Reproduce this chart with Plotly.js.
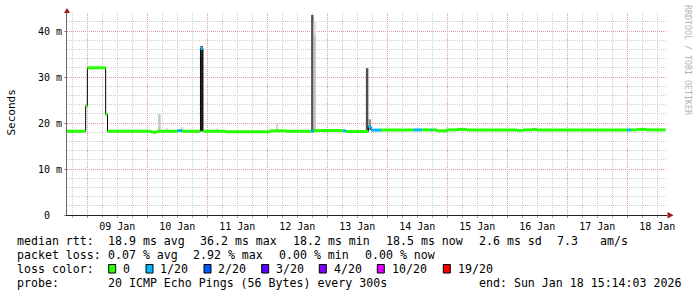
<!DOCTYPE html>
<html><head><meta charset="utf-8">
<script src="https://cdn.plot.ly/plotly-3.0.1.min.js"></script>
<style>html,body{margin:0;padding:0;background:#fff;} #chart{width:697px;height:297px;}</style>
</head><body><div id="chart"></div>
<script>
// ---------- DATA ----------
const xStart = "2026-01-08 15:52";
const xEnd = "2026-01-18 15:52";

// median rtt (ms), step breakpoints, with loss class index per step
const medianTime = [
  "2026-01-08 15:40","2026-01-08 23:20","2026-01-09 00:00","2026-01-09 07:20","2026-01-09 08:05",
  "2026-01-10 01:40","2026-01-10 03:50","2026-01-10 12:05","2026-01-10 13:45","2026-01-10 21:15",
  "2026-01-10 22:15","2026-01-11 07:30","2026-01-12 01:05","2026-01-12 07:30","2026-01-12 17:30",
  "2026-01-12 18:30","2026-01-13 06:25","2026-01-13 07:30","2026-01-13 16:25","2026-01-13 17:30",
  "2026-01-13 21:30","2026-01-14 10:25","2026-01-14 13:45","2026-01-14 17:30","2026-01-14 18:00",
  "2026-01-14 19:45","2026-01-14 23:45","2026-01-15 03:45","2026-01-15 07:45","2026-01-16 03:45",
  "2026-01-16 06:25","2026-01-16 09:45","2026-01-16 11:45","2026-01-18 00:00","2026-01-18 01:20",
  "2026-01-18 03:45","2026-01-18 07:45","2026-01-18 15:15"
];
const medianValue = [
  18.2, 23.7, 32.0, 21.9, 18.2,
  18.0, 18.2, 18.35, 18.2, 36.2,
  18.2, 18.1, 18.3, 18.2, 18.2,
  18.35, 18.3, 18.15, 19.2, 18.45,
  18.5, 18.5, 18.5, 18.5, 18.5,
  18.3, 18.5, 18.6, 18.5, 18.4,
  18.5, 18.6, 18.5, 18.5, 18.5,
  18.6, 18.5, 18.5
];
const medianLoss = [
  0,0,0,0,0,
  0,0,1,0,1,
  0,0,0,0,1,
  0,1,0,1,1,
  0,1,0,1,0,
  0,0,0,0,0,
  0,0,0,1,0,
  0,0,0
];

// smoke (ping spread per hour): centre time, low, high (ms), density 0..1
const smokeTime = [
  "2026-01-10 04:50","2026-01-10 07:45","2026-01-10 13:55","2026-01-10 21:45","2026-01-11 03:45",
  "2026-01-12 03:55","2026-01-12 18:00","2026-01-12 19:00","2026-01-12 19:00","2026-01-13 15:55",
  "2026-01-13 16:57"
];
const smokeLow  = [18.2, 18.2, 18.2, 18.2, 18.2, 18.3, 18.3, 18.3, 38.9, 18.2, 18.5];
const smokeHigh = [21.9, 18.9, 19.05, 36.7, 18.8, 19.9, 43.5, 38.9, 42.2, 31.9, 20.8];
const smokeDensity = [0.22, 0.14, 0.18, 0.85, 0.15, 0.15, 0.67, 0.22, 0.14, 0.69, 0.44];

const lossColors = ["#26ff00","#00b8ff","#0059ff","#5e00ff","#7e00ff","#dd00ff","#ff0000"];
const lossLabels = ["0","1/20","2/20","3/20","4/20","10/20","19/20"];

const yTickValues = [0, 10, 20, 30, 40];
const yTickLabels = ["0\u00a0\u00a0", "10 m", "20 m", "30 m", "40 m"];

const rttStats = ["median rtt:", "18.9 ms avg", "36.2 ms max", "18.2 ms min", "18.5 ms now", "2.6 ms sd", "7.3", "am/s"];
const lossStats = ["packet loss:", "0.07 % avg", "2.92 % max", "0.00 % min", "0.00 % now"];
const lossTitle = "loss color:";
const probeText = ["probe:", "20 ICMP Echo Pings (56 Bytes) every 300s"];
const endText = "end: Sun Jan 18 15:14:03 2026";
const watermark = "RRDTOOL / TOBI OETIKER";
const yTitle = "Seconds";

// ---------- LAYOUT HELPERS ----------
const L = 67, T = 13, W = 600, H = 202;
const px = x => (x - L) / W;
const py = y => (T + H - y) / H;
const MONO = "DejaVu Sans Mono";
const gray = d => { const g = Math.round(255 * (1 - d)); return `rgb(${g},${g},${g})`; };

// ---------- TRACES ----------
const traces = [];
traces.push({
  type: "bar", x: smokeTime, base: smokeLow,
  y: smokeHigh.map((h, i) => h - smokeLow[i]),
  width: 3600000,
  marker: { color: smokeDensity.map(gray), line: { width: 0 } },
  hoverinfo: "skip", showlegend: false
});
traces.push({
  type: "scatter", mode: "lines", x: medianTime, y: medianValue,
  line: { shape: "hv", color: "#000", width: 1 }, hoverinfo: "skip", showlegend: false
});
for (let c = 0; c < lossColors.length; c++) {
  const xs = [], ys = [];
  for (let i = 0; i < medianTime.length - 1; i++) {
    if (medianLoss[i] === c) {
      xs.push(medianTime[i], medianTime[i + 1], null);
      ys.push(medianValue[i], medianValue[i], null);
    }
  }
  if (xs.length) traces.push({
    type: "scatter", mode: "lines", x: xs, y: ys, connectgaps: false,
    line: { color: lossColors[c], width: 3 }, hoverinfo: "skip", showlegend: false
  });
}

// ---------- ANNOTATIONS ----------
const ann = [];
function txt(text, x, y, opts) {
  ann.push(Object.assign({
    text: text, xref: "paper", yref: "paper", x: px(x), y: py(y),
    xanchor: "left", yanchor: "middle", showarrow: false,
    borderpad: 0, borderwidth: 0,
    font: { family: MONO, size: 11.6, color: "#000" }
  }, opts || {}));
}
const rttX = [16.7, 107.7, 200.3, 293, 386, 479, 556.7, 600];
rttStats.forEach((s, i) => txt(s, rttX[i], 241.3));
const lossX = [16.7, 107.7, 193.3, 279, 365];
lossStats.forEach((s, i) => txt(s, lossX[i], 255.3));
txt(lossTitle, 16.7, 268.7);
const boxX = [108.7, 146, 204, 261.7, 319.3, 377.3, 443.3];
lossLabels.forEach((s, i) => txt(s, boxX[i] + 14.3, 268.7));
txt(probeText[0], 16.7, 283);
txt(probeText[1], 107.7, 283);
txt(endText, 680.5, 283, { xanchor: "right" });
txt(yTitle, 10.5, 113, { xanchor: "center", textangle: -90, font: { family: MONO, size: 11, color: "#000" } });
txt(watermark, 688, 60, { xanchor: "center", textangle: 90, font: { family: MONO, size: 8.3, color: "#b4b4b4" } });

// ---------- SHAPES ----------
const shapes = [];
lossColors.forEach((col, i) => shapes.push({
  type: "rect", xref: "paper", yref: "paper",
  x0: px(boxX[i]), x1: px(boxX[i] + 7), y0: py(273), y1: py(264.5),
  fillcolor: col, line: { color: "#000", width: 1 }
}));
const arrowCol = "#a01818";
shapes.push({ type: "path", xref: "paper", yref: "paper",
  path: `M ${px(64)} ${py(13)} L ${px(70)} ${py(13)} L ${px(67)} ${py(8)} Z`,
  fillcolor: arrowCol, line: { width: 0 } });
shapes.push({ type: "path", xref: "paper", yref: "paper",
  path: `M ${px(667.5)} ${py(212)} L ${px(667.5)} ${py(218.5)} L ${px(673.5)} ${py(215.3)} Z`,
  fillcolor: arrowCol, line: { width: 0 } });

const MAJ = "#e39a9a", MIN = "#cfcfcf", DASH = "1px,1px";

const layout = {
  width: 697, height: 297,
  margin: { l: L, r: 697 - L - W, t: T, b: 297 - T - H, pad: 0 },
  paper_bgcolor: "#fff", plot_bgcolor: "#fff",
  font: { family: MONO, size: 10, color: "#000" },
  barmode: "overlay", showlegend: false,
  xaxis: {
    type: "date", range: [xStart, xEnd],
    tick0: "2026-01-09", dtick: 86400000, tickformat: "%d %b", ticklabelmode: "period",
    showgrid: true, gridcolor: MAJ, griddash: DASH, gridwidth: 1,
    ticks: "outside", ticklen: 2, tickcolor: "#999",
    tickfont: { family: MONO, size: 10, color: "#000" },
    showline: true, linecolor: "#222", linewidth: 1, zeroline: false, fixedrange: true,
    minor: { tick0: "2026-01-09", dtick: 21600000, showgrid: true, gridcolor: MIN, griddash: DASH,
             ticks: "outside", ticklen: 2, tickcolor: "#aaa" }
  },
  yaxis: {
    range: [0, H / 4.6],
    tickvals: yTickValues, ticktext: yTickLabels,
    showgrid: true, gridcolor: MAJ, griddash: DASH, gridwidth: 1,
    ticks: "outside", ticklen: 2, tickcolor: "#999",
    tickfont: { family: MONO, size: 10, color: "#000" },
    showline: true, linecolor: "#666", linewidth: 1, zeroline: false, fixedrange: true,
    minor: { tick0: 0, dtick: 2, showgrid: true, gridcolor: MIN, griddash: DASH }
  },
  annotations: ann,
  shapes: shapes
};

Plotly.newPlot("chart", traces, layout, { staticPlot: true, displayModeBar: false });
</script>
</body></html>
